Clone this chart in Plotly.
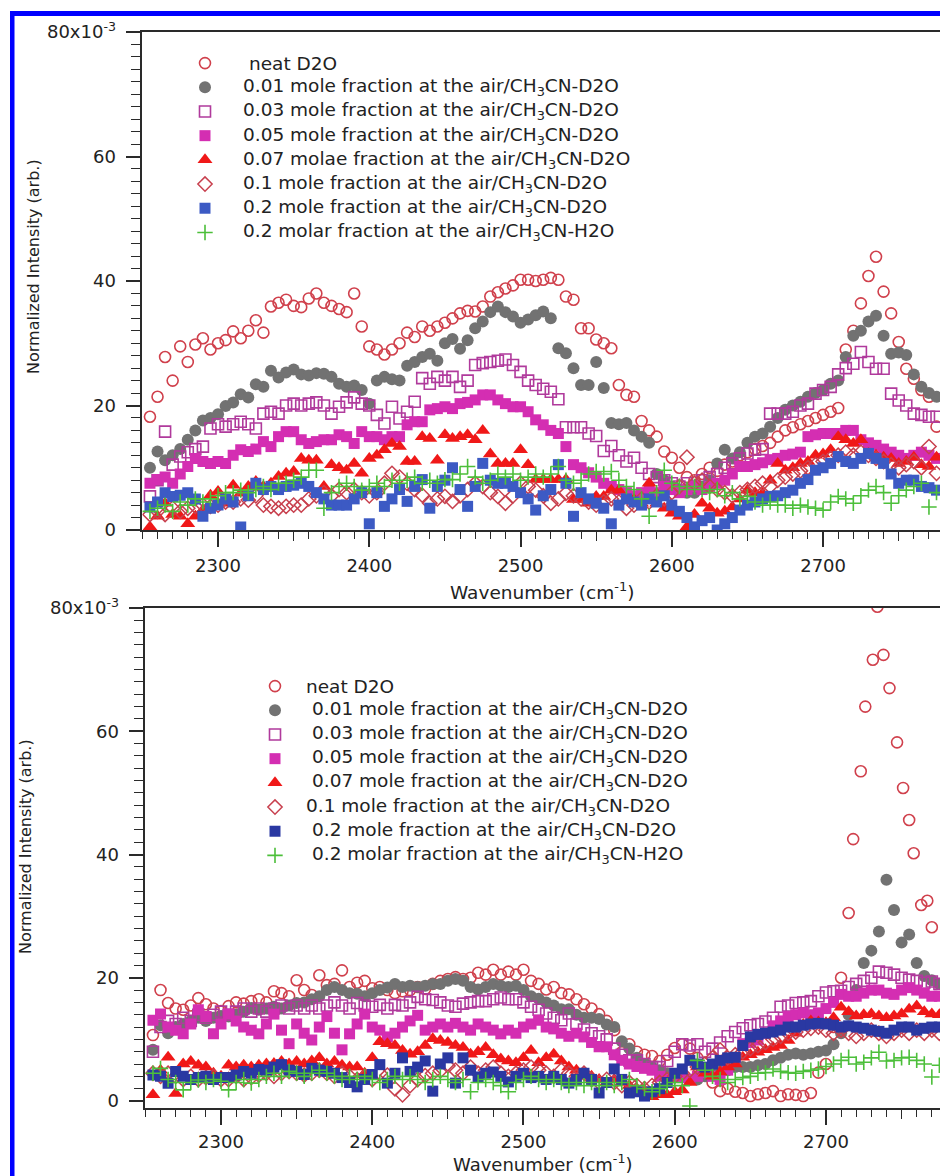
import plotly.graph_objects as go

# ---------------- data (intensity in units of 1e-3) ----------------
wavenumber = list(range(2255, 2776, 5))  # 2255 ... 2775 cm-1

top_neat = [18.2,21.4,27.8,24.0,29.5,27.0,29.8,30.8,29.0,30.0,
            30.5,31.9,30.8,32.0,33.7,31.7,35.9,36.5,37.0,36.0,
            35.8,37.2,38.0,36.5,36.0,35.5,35.0,38.0,32.7,29.5,
            29.0,28.2,29.0,30.0,31.7,31.0,32.7,32.0,32.7,33.3,
            34.0,34.8,35.2,35.1,35.9,37.5,38.2,38.8,39.3,40.2,
            40.2,40.0,40.2,40.5,40.2,37.5,37.0,32.4,32.4,30.6,
            30.0,29.2,23.3,21.7,21.4,17.5,16.0,15.0,12.6,11.6,
            10.0,8.5,8.0,9.0,10.0,9.5,10.5,11.0,12.0,12.5,
            13.0,13.5,14.0,15.0,16.0,16.5,17.0,17.5,18.0,18.5,
            19.0,19.6,29.0,32.0,36.4,40.8,43.9,38.3,34.8,30.2,
            25.9,24.3,22.5,21.4,16.6]
top_001 = [10.0,12.6,11.2,12.0,13.0,14.5,16.0,17.6,18.0,18.6,
           19.9,20.5,21.8,21.3,23.4,23.0,25.6,24.5,25.3,25.8,
           25.0,24.8,25.2,25.1,24.6,23.5,23.0,23.2,22.5,20.3,
           24.0,24.6,24.2,24.0,26.4,27.0,27.8,28.3,27.2,30.0,
           30.7,29.1,30.5,32.4,33.5,35.0,35.9,35.0,34.3,33.3,
           33.8,34.5,35.1,34.0,29.2,28.4,26.0,23.3,23.3,27.0,
           22.8,17.2,17.0,17.2,16.0,15.0,14.0,9.0,8.0,7.0,
           6.5,6.0,6.0,7.0,8.0,10.7,12.9,11.5,12.5,14.0,
           15.0,15.5,16.6,18.0,19.3,20.0,20.6,21.4,22.0,22.5,
           23.5,24.0,27.8,31.2,32.0,33.5,34.4,31.2,28.3,28.5,
           28.1,25.0,23.0,22.0,21.4]
top_003 = [5.4,8.0,15.8,10.5,11.8,12.5,13.0,13.4,16.3,17.0,
           16.6,17.0,17.4,17.0,16.3,18.7,19.0,18.7,20.0,20.3,
           20.0,20.3,20.5,20.0,18.7,19.8,20.5,21.3,20.3,20.0,
           18.5,17.1,19.8,17.9,19.0,20.6,24.4,23.5,24.6,24.0,
           24.6,23.0,24.0,26.5,26.8,27.0,27.2,27.4,26.5,25.4,
           24.0,23.3,22.7,22.2,21.0,16.5,16.5,16.5,15.5,15.1,
           12.7,13.5,12.0,11.0,11.6,10.0,9.0,8.5,8.0,7.5,
           7.0,7.5,7.0,8.0,8.5,9.0,10.0,10.7,11.5,12.3,
           12.9,13.0,18.7,18.7,18.7,19.0,20.0,20.3,21.9,22.5,
           23.0,25.0,26.0,26.7,28.6,27.0,25.9,25.9,21.9,20.8,
           20.0,18.7,18.5,18.2,18.2]
top_005 = [7.5,8.1,8.5,7.5,9.0,10.2,11.5,11.0,10.7,11.0,
           10.7,12.0,12.9,12.6,13.0,14.2,13.4,15.0,15.8,15.8,
           14.5,13.9,14.2,14.5,14.5,15.3,15.0,13.9,15.8,15.0,
           15.0,14.5,15.0,15.0,16.9,17.4,17.4,19.3,19.5,19.8,
           19.5,20.3,20.5,20.9,21.7,21.7,20.9,20.3,19.8,19.8,
           19.0,17.7,16.9,16.0,15.5,13.4,10.5,10.0,9.2,8.5,
           7.5,7.0,6.5,6.0,5.5,6.0,6.5,6.0,7.0,6.5,
           6.0,6.5,7.0,6.5,7.0,7.5,8.0,9.0,10.2,10.2,
           10.5,10.8,11.3,11.5,12.0,12.2,12.5,15.0,15.3,15.5,
           15.5,15.5,16.0,16.0,14.5,14.0,13.6,13.0,12.5,12.0,
           11.5,12.0,12.5,12.0,11.5]
top_007 = [0.5,2.2,4.3,2.5,2.2,1.0,2.2,3.2,5.6,6.2,
           4.3,7.2,5.9,7.0,7.8,7.0,7.5,8.6,9.1,9.4,
           11.5,11.2,11.2,7.0,10.5,10.0,9.6,10.7,9.1,11.5,
           12.0,12.9,13.9,13.4,11.0,11.0,15.0,14.7,11.2,15.3,
           14.7,15.0,15.3,14.5,16.0,12.2,10.7,10.7,10.7,12.9,
           10.5,8.1,8.1,8.1,8.1,8.1,4.9,4.9,4.3,5.4,
           5.4,6.4,6.4,4.9,4.9,4.3,7.5,4.3,3.5,2.7,
           2.2,0.5,2.5,4.3,3.5,2.7,3.0,3.7,5.0,6.4,
           6.0,5.9,8.0,10.7,9.6,10.0,10.7,11.0,12.0,12.2,
           12.9,15.0,14.5,13.9,14.5,12.2,12.0,11.7,11.5,10.7,
           11.0,11.7,10.5,10.2,11.7]
top_01 = [2.5,3.0,2.5,3.5,3.0,3.5,3.8,4.0,3.8,4.0,
          4.5,4.5,5.0,4.8,5.5,4.0,3.8,3.5,3.8,4.0,
          4.0,5.0,5.5,6.0,5.5,6.5,6.0,6.5,6.0,5.5,
          6.0,7.5,9.1,8.5,7.5,6.5,5.6,4.3,5.0,5.4,
          4.6,5.5,6.5,7.5,7.0,6.0,5.4,4.3,5.5,7.5,
          7.0,6.4,5.5,4.3,5.0,5.9,5.5,5.0,4.5,4.0,
          4.5,5.0,4.5,3.5,4.0,5.0,4.5,5.5,5.0,6.0,
          7.0,11.7,7.5,8.0,7.0,6.5,6.0,5.5,6.0,6.5,
          7.0,7.5,7.0,8.0,8.5,9.0,9.5,10.0,10.5,11.0,
          11.5,12.0,12.5,12.0,12.5,12.0,11.5,11.0,10.5,10.0,
          10.5,11.0,10.0,13.4,9.1]
top_02 = [3.7,4.5,6.0,5.4,5.6,6.0,5.0,2.2,3.5,4.0,
          5.0,4.5,0.5,5.5,7.5,6.5,7.0,6.5,7.0,7.2,
          7.5,7.0,6.0,5.0,4.0,4.0,4.0,5.0,6.0,1.0,
          6.0,3.8,5.0,6.5,4.6,7.0,8.1,3.5,7.0,8.0,
          10.0,6.5,3.8,7.0,10.7,8.0,7.5,7.5,7.0,6.0,
          5.0,3.2,5.5,6.5,10.5,7.5,2.2,6.0,5.0,4.3,
          3.5,1.0,4.0,5.0,4.5,4.0,5.0,4.5,5.5,4.0,
          3.0,2.0,0.5,1.5,2.0,0.0,1.0,2.0,3.2,4.0,
          4.5,5.0,5.4,5.5,6.0,6.4,7.5,8.1,9.6,10.0,
          10.7,11.8,11.0,10.7,11.5,12.3,11.5,10.7,9.0,7.5,
          8.0,8.0,7.0,6.8,6.4]
top_h2o = [3.0,3.5,4.0,3.0,4.5,4.0,5.0,4.5,5.0,5.5,
           6.0,6.0,6.4,6.0,6.5,7.0,6.5,7.5,7.5,8.0,
           8.5,9.6,9.6,3.5,6.0,7.0,7.5,7.0,6.4,7.0,
           7.5,7.0,8.0,7.5,8.0,8.5,7.5,8.0,7.5,8.1,
           8.1,9.0,10.2,8.5,7.5,8.0,9.0,8.5,9.0,8.0,
           8.5,9.0,8.5,9.0,10.2,8.0,7.5,8.0,9.0,9.4,
           9.0,9.4,8.0,7.0,6.5,5.0,2.2,6.0,9.6,7.5,
           7.0,6.5,7.0,6.5,6.0,6.5,5.5,6.0,5.0,5.4,
           4.5,4.0,4.5,4.0,4.0,3.5,4.0,3.7,3.5,3.2,
           4.5,5.4,5.0,4.3,5.5,6.4,7.0,6.0,4.3,5.5,
           6.4,7.0,7.5,3.7,6.0]

# bottom panel
neat_bottom_wavenumber = wavenumber[:92] + [2715, 2718, 2723, 2726, 2731, 2734, 2738, 2742,
                                            2747, 2751, 2755, 2758, 2763, 2767, 2770]
bot_neat = [10.7,18.0,15.9,15.0,14.8,15.5,16.7,15.7,15.0,14.6,
            15.4,16.0,15.8,16.2,16.5,16.0,17.8,17.5,17.0,19.6,
            18.0,17.2,20.4,18.8,19.0,21.2,18.5,19.2,19.5,18.3,
            18.5,18.0,17.5,17.8,18.0,18.5,18.2,19.0,19.5,19.8,
            20.1,19.8,20.0,20.8,20.5,21.3,20.5,21.0,20.5,21.3,
            19.5,19.0,18.1,18.5,17.5,17.3,16.5,15.7,15.0,14.1,
            13.0,11.5,7.9,9.2,8.0,7.5,7.3,6.5,7.5,8.6,
            9.2,8.5,7.0,5.0,3.0,1.6,2.0,1.5,1.3,0.8,
            1.1,1.3,1.6,0.8,1.1,1.0,0.8,1.3,4.6,6.0,
            12.0,20.0,
            30.5,42.5,53.5,64.0,71.6,80.2,72.4,67.0,58.2,50.8,45.6,40.2,31.8,32.5,28.2]
bot_001 = [8.3,12.3,11.0,12.0,12.5,13.0,13.5,13.0,13.5,13.8,
           13.7,14.0,14.5,15.1,14.8,15.0,15.3,15.0,15.5,15.9,
           16.0,16.5,17.0,18.0,18.5,18.0,17.5,17.4,17.0,17.5,
           18.0,18.4,19.0,18.5,18.7,18.5,18.7,19.0,19.0,19.5,
           19.8,19.5,18.5,18.1,18.5,19.0,18.7,18.5,18.7,18.0,
           17.0,16.6,16.0,15.5,14.9,14.9,14.0,13.5,13.5,13.3,
           12.4,12.0,9.7,8.5,7.0,6.0,5.5,5.0,4.5,4.0,
           4.0,3.5,3.5,4.0,4.5,5.0,5.0,5.5,5.5,5.5,
           5.8,6.0,6.6,7.0,7.5,7.7,7.5,7.7,8.0,8.2,
           9.2,11.0,14.0,18.0,22.4,24.4,27.5,35.9,31.0,25.7,
           27.0,22.4,20.3,19.6,19.0]
bot_003 = [8.0,12.0,13.0,12.5,13.5,13.0,14.0,13.5,14.0,14.5,
           14.0,14.5,15.0,14.5,15.0,14.5,15.0,15.5,15.0,15.5,
           15.0,15.5,15.0,15.5,16.0,15.5,15.0,15.9,15.5,15.3,
           15.6,15.0,15.6,15.5,16.0,16.9,16.5,16.4,16.0,15.5,
           15.3,15.8,16.0,16.2,16.2,16.5,16.8,16.5,16.5,16.0,
           15.3,14.8,14.2,13.5,13.1,14.2,12.5,11.6,11.0,10.5,
           10.0,8.5,7.5,6.6,6.6,6.0,5.5,5.5,6.5,8.0,
           9.2,9.0,9.2,8.0,8.5,9.5,10.5,11.2,11.8,12.3,
           12.5,12.9,13.5,15.3,15.5,15.9,16.0,16.2,17.0,17.6,
           17.8,17.9,18.5,19.0,19.5,20.0,21.0,20.8,20.5,20.0,
           19.7,19.5,19.2,19.4,19.0]
bot_005 = [13.1,14.1,12.0,11.5,10.9,12.5,14.8,13.7,10.9,12.5,
           14.1,13.0,12.0,11.5,10.9,12.5,14.1,11.5,9.3,12.5,
           11.0,9.9,12.0,13.7,11.0,8.3,10.9,12.5,14.1,12.0,
           11.5,10.4,11.0,12.0,13.0,13.9,11.5,12.0,12.5,12.0,
           12.6,12.0,11.5,12.5,12.0,11.5,10.9,11.5,11.0,12.0,
           12.5,13.1,12.0,11.7,11.0,10.5,11.0,10.4,9.5,8.8,
           8.8,7.5,6.6,6.0,5.6,5.3,5.0,4.0,3.5,4.0,
           3.8,3.5,4.0,4.6,4.0,3.5,5.0,7.0,9.3,9.5,
           9.9,11.0,12.2,13.0,13.7,14.0,14.3,14.0,14.3,15.0,
           16.0,17.3,17.0,17.0,17.5,18.0,18.0,17.5,17.3,18.0,
           18.4,18.0,17.5,17.0,17.0]
bot_007 = [1.0,5.0,7.1,1.2,6.0,6.4,5.8,5.5,4.5,4.0,
           5.8,5.5,5.8,5.5,5.8,6.0,6.1,6.4,6.0,6.4,
           6.0,6.5,7.0,6.0,6.4,5.8,5.5,5.5,4.5,7.0,
           9.6,9.3,9.0,8.2,7.6,8.0,9.0,10.1,9.8,9.5,
           9.0,8.7,7.6,8.0,8.7,7.5,6.8,6.5,6.2,7.0,
           8.2,6.2,7.0,7.6,6.5,5.5,5.0,4.5,4.0,3.5,
           3.0,3.5,3.0,2.5,2.0,1.5,0.7,1.0,1.0,1.5,
           1.8,3.0,5.5,4.5,4.0,4.7,5.5,6.0,7.1,7.5,
           7.9,8.3,8.7,9.0,9.8,11.0,12.4,13.0,12.8,12.7,
           13.5,15.2,14.5,13.8,14.0,14.1,13.8,13.5,13.8,14.1,
           14.9,15.4,14.5,14.1,14.0]
bot_01 = [4.5,4.0,4.5,4.0,3.5,4.0,3.5,3.8,4.0,3.5,
          3.5,4.0,3.5,3.8,4.2,4.5,4.0,4.5,4.8,4.5,
          4.2,4.5,5.0,4.5,4.0,4.5,4.0,3.5,4.0,3.5,
          4.5,4.2,2.0,1.0,2.5,3.5,4.1,4.5,4.9,5.7,
          5.0,4.5,5.5,4.5,5.0,5.5,4.5,4.0,4.5,5.0,
          5.5,5.0,4.5,4.0,5.0,4.5,4.0,4.5,3.5,3.0,
          3.5,3.0,2.5,3.0,2.5,2.0,2.5,3.0,3.5,4.0,
          4.5,5.0,5.5,6.0,7.0,8.3,7.0,7.5,8.0,8.5,
          9.0,9.5,10.0,10.5,11.0,11.2,11.5,11.8,12.0,11.5,
          11.0,11.5,11.0,10.5,11.0,11.5,11.0,10.5,11.0,11.5,
          11.0,11.5,11.0,11.5,11.0]
bot_02 = [4.2,4.0,2.9,4.8,4.0,3.5,3.8,4.0,3.5,3.8,
          3.8,4.2,4.8,4.5,5.1,5.0,5.5,5.9,5.0,4.8,
          4.3,5.3,5.0,4.8,4.5,3.8,3.0,2.3,3.5,4.3,
          5.9,2.9,4.5,7.0,4.8,5.5,6.5,1.6,6.0,7.0,
          2.9,7.0,5.0,3.9,4.5,4.7,4.0,3.1,4.0,4.5,
          3.8,4.0,3.5,4.0,3.5,2.9,3.5,4.5,3.5,1.3,
          3.0,5.2,3.5,1.3,1.5,0.8,1.5,2.0,3.0,4.5,
          5.2,6.6,6.0,5.5,6.0,6.6,7.0,7.1,9.0,10.4,
          10.8,11.0,11.2,11.5,12.0,12.0,12.3,12.5,12.6,12.5,
          12.3,12.0,12.2,12.0,11.8,11.5,11.3,11.0,11.5,12.0,
          12.0,11.5,11.8,12.0,12.0]
bot_h2o = [4.5,5.3,3.5,3.0,1.8,3.0,3.4,3.0,3.5,3.2,
           1.8,3.0,3.5,2.9,3.5,4.0,4.5,4.0,4.8,4.5,
           4.0,4.5,5.0,4.5,4.0,3.5,4.0,3.5,4.0,3.5,
           3.0,3.5,4.0,3.5,4.0,3.5,3.0,3.5,4.0,3.5,
           3.0,3.5,1.5,3.0,3.5,3.0,2.5,1.5,3.0,3.5,
           4.0,3.5,3.0,3.5,3.0,2.5,3.0,2.5,3.0,2.5,
           3.0,2.5,3.0,3.5,2.5,2.0,1.5,2.0,2.5,3.0,
           2.5,-0.8,6.6,5.0,4.0,3.5,3.0,3.5,3.8,4.0,
           4.5,4.6,5.2,4.8,4.6,4.5,4.8,5.0,5.2,5.6,
           6.0,6.6,7.1,6.0,6.3,7.0,7.9,6.5,6.6,7.0,
           7.1,6.6,6.0,3.9,5.8]

top_labels = ["neat D2O",
              "0.01 mole fraction at the air/CH<sub>3</sub>CN-D2O",
              "0.03 mole fraction at the air/CH<sub>3</sub>CN-D2O",
              "0.05 mole fraction at the air/CH<sub>3</sub>CN-D2O",
              "0.07 molae fraction at the air/CH<sub>3</sub>CN-D2O",
              "0.1 mole fraction at the air/CH<sub>3</sub>CN-D2O",
              "0.2 mole fraction at the air/CH<sub>3</sub>CN-D2O",
              "0.2 molar fraction at the air/CH<sub>3</sub>CN-H2O"]
bottom_labels = ["neat D2O",
                 "0.01 mole fraction at the air/CH<sub>3</sub>CN-D2O",
                 "0.03 mole fraction at the air/CH<sub>3</sub>CN-D2O",
                 "0.05 mole fraction at the air/CH<sub>3</sub>CN-D2O",
                 "0.07 mole fraction at the air/CH<sub>3</sub>CN-D2O",
                 "0.1 mole fraction at the air/CH<sub>3</sub>CN-D2O",
                 "0.2 mole fraction at the air/CH<sub>3</sub>CN-D2O",
                 "0.2 molar fraction at the air/CH<sub>3</sub>CN-H2O"]

y_tickvals = [0, 20, 40, 60, 80]
y_ticktext = ["0", "20", "40", "60", "80x10<sup>-3</sup>"]
x_tickvals = [2300, 2400, 2500, 2600, 2700]
x_midticks = [2350, 2450, 2550, 2650, 2750]

# ---------------- styles ----------------
FONT = "DejaVu Sans"
W, H = 940, 1176

styles = [
    dict(symbol="circle-open", color="#d0404c", size=11, lw=1.6),
    dict(symbol="circle", color="#727272", size=12, lw=0),
    dict(symbol="square-open", color="#b03a9c", size=11, lw=1.6),
    dict(symbol="square", color="#d42eb2", size=11, lw=0),
    dict(symbol="triangle-up", color="#f01818", size=13, lw=0),
    dict(symbol="diamond-open", color="#c8404e", size=11, lw=1.5),
    dict(symbol="square", color="#3c5ac4", size=11, lw=0),
    dict(symbol="cross-thin-open", color="#4cbf3a", size=11, lw=1.6),
]
blue_bottom = "#2a38a2"

top_series = [top_neat, top_001, top_003, top_005, top_007, top_01, top_02, top_h2o]
bot_series = [bot_neat, bot_001, bot_003, bot_005, bot_007, bot_01, bot_02, bot_h2o]

fig = go.Figure()

def add(xs, ys, st, name, xa, ya, legend, color=None):
    c = color or st["color"]
    marker = dict(symbol=st["symbol"], size=st["size"], color=c,
                  line=dict(width=st["lw"], color=c))
    # the legend entry shows only the symbol; its text is written as an annotation
    fig.add_trace(go.Scatter(x=xs, y=ys, mode="markers", name="\u00a0", meta=name,
                             marker=marker, xaxis=xa, yaxis=ya, legend=legend))

for i, (ys, st) in enumerate(zip(top_series, styles)):
    add(wavenumber, ys, st, top_labels[i], "x", "y", "legend")
for i, (ys, st) in enumerate(zip(bot_series, styles)):
    xs = neat_bottom_wavenumber if i == 0 else wavenumber
    add(xs, ys, st, bottom_labels[i], "x2", "y2", "legend2",
        color=blue_bottom if i == 6 else None)

# empty traces that only carry the overlay axes used for the mid-length ticks
fig.add_trace(go.Scatter(x=[], y=[], xaxis="x3", yaxis="y", showlegend=False,
                         hoverinfo="skip"))
fig.add_trace(go.Scatter(x=[], y=[], xaxis="x4", yaxis="y2", showlegend=False,
                         hoverinfo="skip"))

def px_x(p):
    return p / W

def px_y(p):
    return 1 - p / H

axis_common = dict(showgrid=False, zeroline=False, showline=True, linecolor="#2a2a2a",
                   linewidth=1.6, mirror=True, ticks="outside", tickcolor="#2a2a2a",
                   tickwidth=1.6, automargin=False,
                   tickfont=dict(family=FONT, size=18, color="#222"))

x_common = dict(axis_common, tickvals=x_tickvals, ticklen=15, ticklabelstandoff=4,
                minor=dict(dtick=10, tick0=2250, ticklen=7, ticks="outside",
                           tickcolor="#2a2a2a", tickwidth=1.4))
y_common = dict(axis_common, tickvals=y_tickvals, ticktext=y_ticktext, ticklen=15,
                ticklabelstandoff=6,
                minor=dict(dtick=2, tick0=0, ticklen=10, ticks="outside",
                           tickcolor="#2a2a2a", tickwidth=1.4))
mid_common = dict(showgrid=False, zeroline=False, showline=False, showticklabels=False,
                  ticks="outside", ticklen=10, tickwidth=1.4, tickcolor="#2a2a2a",
                  tickvals=x_midticks, automargin=False)

LEG_FONT = 16.3   # gives 24 px legend rows
fig.update_layout(
    width=W, height=H,
    margin=dict(l=0, r=0, t=0, b=0, pad=0, autoexpand=False),
    paper_bgcolor="white", plot_bgcolor="white",
    font=dict(family=FONT, size=18, color="#222"),
    xaxis=dict(x_common, domain=[px_x(142.4), 1.0], range=[2250, 2777.3], anchor="y"),
    yaxis=dict(y_common, domain=[px_y(530), px_y(32)], range=[0, 80], anchor="x"),
    xaxis2=dict(x_common, domain=[px_x(145.4), 1.0], range=[2250, 2775.4], anchor="y2",
                ticklabelstandoff=2),
    yaxis2=dict(y_common, domain=[px_y(1108), px_y(608)], range=[-1.136, 80], anchor="x2"),
    xaxis3=dict(mid_common, overlaying="x", anchor="y", range=[2250, 2777.3]),
    xaxis4=dict(mid_common, overlaying="x2", anchor="y2", range=[2250, 2775.4]),
    legend=dict(x=px_x(185), y=px_y(46), xanchor="left", yanchor="top",
                bgcolor="rgba(0,0,0,0)", borderwidth=0,
                font=dict(family=FONT, size=LEG_FONT, color="#222"), tracegroupgap=0),
    legend2=dict(x=px_x(255), y=px_y(669), xanchor="left", yanchor="top",
                 bgcolor="rgba(0,0,0,0)", borderwidth=0,
                 font=dict(family=FONT, size=LEG_FONT, color="#222"), tracegroupgap=0),
    showlegend=True,
)

annotations = [
    dict(text="Normalized Intensity (arb.)", x=px_x(33), y=px_y(267), textangle=-90),
    dict(text="Normalized Intensity (arb.)", x=px_x(25), y=px_y(847), textangle=-90),
]
annotations = [dict(a, xref="paper", yref="paper", showarrow=False, xanchor="center",
                    yanchor="middle", font=dict(family=FONT, size=16, color="#222"))
               for a in annotations]
annotations.append(dict(text="Wavenumber (cm<sup>-1</sup>)", x=px_x(542), y=px_y(591),
                        xref="paper", yref="paper", showarrow=False,
                        xanchor="center", yanchor="middle",
                        font=dict(family=FONT, size=18.5, color="#222")))
annotations.append(dict(text="Wavenumber (cm<sup>-1</sup>)", x=px_x(542), y=0,
                        xref="paper", yref="paper", showarrow=False,
                        xanchor="center", yanchor="bottom", borderpad=0,
                        font=dict(family=FONT, size=18, color="#222")))

# legend texts
top_text_x = [247, 241, 241, 241, 241, 241, 241, 241]
bot_text_x = [304, 310, 310, 310, 310, 304, 310, 310]
for i, lab in enumerate(top_labels):
    annotations.append(dict(text=lab, x=px_x(top_text_x[i]), y=px_y(63 + 24.2 * i),
                            xref="paper", yref="paper", showarrow=False,
                            xanchor="left", yanchor="middle",
                            font=dict(family=FONT, size=18.5, color="#222")))
for i, lab in enumerate(bottom_labels):
    annotations.append(dict(text=lab, x=px_x(bot_text_x[i]), y=px_y(686 + 24.1 * i),
                            xref="paper", yref="paper", showarrow=False,
                            xanchor="left", yanchor="middle",
                            font=dict(family=FONT, size=18.5, color="#222")))
fig.update_layout(annotations=annotations)

# blue frame of the figure (left and top edges)
fig.update_layout(shapes=[
    dict(type="rect", xref="paper", yref="paper", x0=px_x(10), x1=px_x(14.5),
         y0=0, y1=px_y(11), fillcolor="#0000ff", line=dict(width=0), layer="above"),
    dict(type="rect", xref="paper", yref="paper", x0=px_x(10), x1=1,
         y0=px_y(16), y1=px_y(11), fillcolor="#0000ff", line=dict(width=0), layer="above"),
])

fig.write_html("out.html", config={"displayModeBar": False},
               post_script="document.body.style.margin='0px';"
                           "document.body.style.overflow='hidden';")
